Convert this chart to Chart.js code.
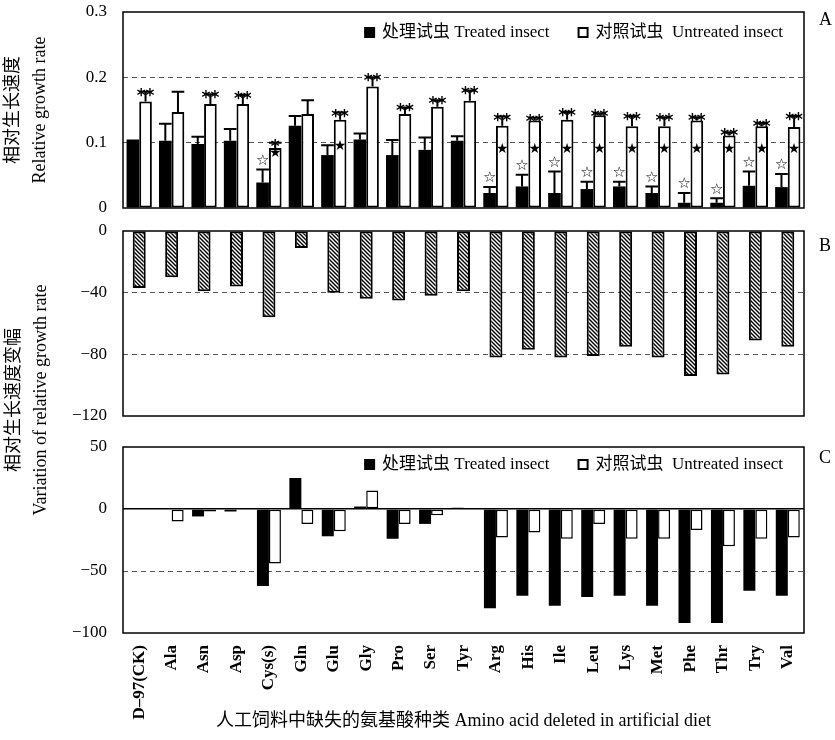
<!DOCTYPE html>
<html>
<head>
<meta charset="utf-8">
<script src="https://cdn.jsdelivr.net/npm/chart.js@4.4.1/dist/chart.umd.min.js"></script>
<style>
  body { margin: 0; background: #fff; }
  #wrap { position: relative; width: 835px; height: 740px; overflow: hidden;
          font-family: 'Liberation Serif', 'Noto Sans CJK SC', serif; color: #000; }
  canvas { position: absolute; left: 0; }
  .tag { position: absolute; left: 819px; font-size: 18px; }
  #ytitleBC { position: absolute; width: 320px; height: 54px; line-height: 27px; font-size: 18px;
              text-align: center; white-space: nowrap; transform: rotate(-90deg); left: -133px; top: 373px; }
</style>
</head>
<body>
<div id="wrap">
  <canvas id="chart-a" width="835" height="222" style="top:0"></canvas>
  <canvas id="chart-b" width="835" height="205" style="top:222px"></canvas>
  <canvas id="chart-c" width="835" height="313" style="top:427px"></canvas>
  <div class="tag" style="top:9px">A</div>
  <div class="tag" style="top:235px">B</div>
  <div class="tag" style="top:447px">C</div>
  <div id="ytitleBC">相对生长速度变幅<br>Variation of relative growth rate</div>
</div>
<script>
// amino acid left out of the diet
const aminoAcids = ['D–97(CK)', 'Ala', 'Asn', 'Asp', 'Cys(s)', 'Gln', 'Glu', 'Gly', 'Pro', 'Ser', 'Tyr',
  'Arg', 'His', 'Ile', 'Leu', 'Lys', 'Met', 'Phe', 'Thr', 'Try', 'Val'];

// A: relative growth rate (+ upper error)
const rgrTreated = [0.105, 0.103, 0.098, 0.103, 0.039, 0.126, 0.081, 0.105, 0.081, 0.089, 0.103,
  0.023, 0.033, 0.023, 0.029, 0.033, 0.023, 0.008, 0.008, 0.034, 0.032];
const rgrTreatedErr = [0, 0.026, 0.011, 0.018, 0.020, 0.015, 0.015, 0.009, 0.023, 0.019, 0.007,
  0.009, 0.018, 0.033, 0.011, 0.007, 0.010, 0.015, 0.007, 0.022, 0.020];
const rgrUntreated = [0.163, 0.147, 0.159, 0.159, 0.092, 0.144, 0.135, 0.186, 0.144, 0.155, 0.164,
  0.126, 0.134, 0.135, 0.142, 0.125, 0.125, 0.134, 0.111, 0.125, 0.124];
const rgrUntreatedErr = [0.015, 0.031, 0.015, 0.014, 0.008, 0.021, 0.011, 0.014, 0.010, 0.010, 0.016,
  0.014, 0.004, 0.012, 0.003, 0.016, 0.014, 0.005, 0.005, 0.005, 0.017];
const sigTreated = ['', '', '', '', '☆', '', '', '', '', '', '',
  '☆', '☆', '☆', '☆', '☆', '☆', '☆', '☆', '☆', '☆'];
const sigUntreated = ['**', '', '**', '**', '*', '', '**', '**', '**', '**', '**',
  '**', '**', '**', '**', '**', '**', '**', '**', '**', '**'];
const untreatedStar = [null, null, null, null, 0.083, null, 0.094, null, null, null, null,
  0.089, 0.089, 0.089, 0.089, 0.089, 0.089, 0.089, 0.089, 0.089, 0.089];

// B: variation of relative growth rate (%)
const rgrChange = [-37, -30, -39, -36, -56, -11, -40, -44, -45, -42, -39,
  -82, -77, -82, -81, -75, -82, -94, -93, -71, -75];

// C: variation, treated vs untreated insects
const changeTreated = [0, 0, -6, -2, -62, 25, -22, 2, -24, -12, 1,
  -80, -70, -78, -71, -70, -78, -92, -92, -66, -70];
const changeUntreated = [0, -10, -2, 0, -44, -12, -18, 15, -12, -5, 0,
  -23, -19, -24, -12, -24, -24, -17, -30, -24, -23];

const ticksA = [0, 0.1, 0.2, 0.3];
const ticksB = [-120, -80, -40, 0];
const ticksC = [-100, -50, 0, 50];

const serif = "'Liberation Serif', 'Noto Sans CJK SC', serif";
Chart.defaults.font.family = serif;
Chart.defaults.color = '#000';

// frame around each panel
const panelBox = {
  id: 'panelBox',
  afterDraw(chart) {
    const a = chart.chartArea, ctx = chart.ctx;
    ctx.save();
    ctx.strokeStyle = '#000';
    ctx.lineWidth = 1.5;
    ctx.strokeRect(a.left, a.top, a.right - a.left, a.bottom - a.top);
    ctx.restore();
  }
};

// error bars, significance marks
const barMarks = {
  id: 'barMarks',
  afterDatasetsDraw(chart) {
    const ctx = chart.ctx, yScale = chart.scales.y;
    chart.data.datasets.forEach((ds, di) => {
      const meta = chart.getDatasetMeta(di);
      meta.data.forEach((bar, i) => {
        let top = bar.y;
        ctx.save();
        if (ds.err && ds.err[i]) {
          top = yScale.getPixelForValue(ds.data[i] + ds.err[i]);
          const half = bar.width / 2;
          ctx.strokeStyle = '#000';
          ctx.lineWidth = 2;
          ctx.beginPath();
          ctx.moveTo(bar.x, bar.y);
          ctx.lineTo(bar.x, top);
          ctx.moveTo(bar.x - half, top);
          ctx.lineTo(bar.x + half, top);
          ctx.stroke();
        }
        ctx.fillStyle = '#000';
        ctx.textAlign = 'center';
        if (ds.sig && ds.sig[i]) {
          if (ds.sig[i] === '☆') {
            ctx.font = "15px 'DejaVu Sans'";
            ctx.textBaseline = 'bottom';
            ctx.fillText(ds.sig[i], bar.x, top - 1);
          } else {
            ctx.font = "bold 17px 'DejaVu Sans'";
            ctx.textBaseline = 'alphabetic';
            ctx.fillText(ds.sig[i], bar.x, top + 9);
          }
        }
        if (ds.inner && ds.inner[i] != null) {
          ctx.font = "14px 'DejaVu Sans'";
          ctx.textBaseline = 'middle';
          ctx.fillText('★', bar.x, yScale.getPixelForValue(ds.inner[i]));
        }
        ctx.restore();
      });
    });
  }
};

// legend inside the plot area, top right
const insideLegend = {
  id: 'insideLegend',
  afterDraw(chart, args, opts) {
    if (!opts.show) return;
    const ctx = chart.ctx, a = chart.chartArea;
    const y = a.top + opts.top;
    let x = a.right - opts.right;
    ctx.save();
    ctx.font = '17px ' + serif;
    ctx.textBaseline = 'middle';
    ctx.textAlign = 'left';
    const items = chart.data.datasets;
    for (let k = items.length - 1; k >= 0; k--) {
      const d = items[k];
      x -= ctx.measureText(d.label).width;
      ctx.fillStyle = '#000';
      ctx.fillText(d.label, x, y);
      x -= 18;
      ctx.fillStyle = d.backgroundColor;
      ctx.fillRect(x, y - 6, 11, 11);
      if (d.borderWidth) {
        ctx.strokeStyle = '#000';
        ctx.lineWidth = 2;
        ctx.strokeRect(x + 1, y - 5, 9, 9);
      }
      x -= 28;
    }
    ctx.restore();
  }
};

function yAxis(ticks, fmt, extra) {
  return Object.assign({
    min: ticks[0],
    max: ticks[ticks.length - 1],
    afterBuildTicks: s => { s.ticks = ticks.map(v => ({ value: v })); },
    afterFit: s => { s.width = 123; s.paddingTop = 0; s.paddingBottom = 0; },
    border: { display: false, dash: [5, 4] },
    grid: {
      drawTicks: false,
      lineWidth: 1,
      color: c => (c.tick && c.tick.value !== ticks[0] && c.tick.value !== ticks[ticks.length - 1]) ? '#555' : 'rgba(0,0,0,0)'
    },
    ticks: { padding: 16, font: { size: 17 }, callback: fmt }
  }, extra || {});
}

const minus = v => String(v).replace('-', '−');

// Panel A
new Chart(document.getElementById('chart-a'), {
  type: 'bar',
  data: {
    labels: aminoAcids,
    datasets: [
      {
        label: '处理试虫 Treated insect',
        data: rgrTreated,
        err: rgrTreatedErr,
        sig: sigTreated,
        backgroundColor: '#000',
        borderWidth: 0
      },
      {
        label: '对照试虫  Untreated insect',
        data: rgrUntreated,
        err: rgrUntreatedErr,
        sig: sigUntreated,
        inner: untreatedStar,
        backgroundColor: '#fff',
        borderColor: '#000',
        borderWidth: 2,
        borderSkipped: false
      }
    ]
  },
  options: {
    responsive: false,
    animation: false,
    layout: { padding: { top: 12, right: 31, bottom: 14, left: 0 } },
    datasets: { bar: { categoryPercentage: 0.78, barPercentage: 1 } },
    plugins: {
      legend: { display: false },
      tooltip: { enabled: false },
      insideLegend: { show: true, top: 21, right: 21 }
    },
    scales: {
      x: { display: false },
      y: yAxis(ticksA, v => v === 0 ? '0' : v.toFixed(1), {
        title: {
          display: true,
          text: ['相对生长速度', 'Relative growth rate'],
          font: { size: 18, lineHeight: 1.5 },
          padding: { top: 0, bottom: 0 }
        }
      })
    }
  },
  plugins: [barMarks, insideLegend, panelBox]
});

// Panel B
const bCanvas = document.getElementById('chart-b');
function hatch(ctx) {
  const c = document.createElement('canvas');
  c.width = 4; c.height = 4;
  const g = c.getContext('2d');
  g.fillStyle = '#fff';
  g.fillRect(0, 0, 4, 4);
  g.strokeStyle = '#000';
  g.lineWidth = 1.4;
  g.beginPath();
  g.moveTo(-1, -1); g.lineTo(5, 5);
  g.moveTo(-1, 3); g.lineTo(1, 5);
  g.moveTo(3, -1); g.lineTo(5, 1);
  g.stroke();
  return ctx.createPattern(c, 'repeat');
}

new Chart(bCanvas, {
  type: 'bar',
  data: {
    labels: aminoAcids,
    datasets: [{
      label: '相对生长速度变幅',
      data: rgrChange,
      backgroundColor: hatch(bCanvas.getContext('2d')),
      borderColor: '#000',
      borderWidth: 2,
      borderSkipped: false
    }]
  },
  options: {
    responsive: false,
    animation: false,
    layout: { padding: { top: 9, right: 31, bottom: 11, left: 0 } },
    datasets: { bar: { categoryPercentage: 1, barPercentage: 0.4 } },
    plugins: { legend: { display: false }, tooltip: { enabled: false } },
    scales: {
      x: { display: false },
      y: yAxis(ticksB, minus)
    }
  },
  plugins: [panelBox]
});

// Panel C
new Chart(document.getElementById('chart-c'), {
  type: 'bar',
  data: {
    labels: aminoAcids,
    datasets: [
      {
        label: '处理试虫 Treated insect',
        data: changeTreated,
        backgroundColor: '#000',
        borderWidth: 0
      },
      {
        label: '对照试虫  Untreated insect',
        data: changeUntreated,
        backgroundColor: '#fff',
        borderColor: '#000',
        borderWidth: 1.5,
        borderSkipped: false
      }
    ]
  },
  options: {
    responsive: false,
    animation: false,
    layout: { padding: { top: 20, right: 31, bottom: 0, left: 0 } },
    datasets: { bar: { categoryPercentage: 0.74, barPercentage: 1 } },
    plugins: {
      legend: { display: false },
      tooltip: { enabled: false },
      insideLegend: { show: true, top: 18, right: 21 }
    },
    scales: {
      x: {
        afterFit: s => { s.height = 107; },
        grid: { display: false, drawTicks: false },
        border: { display: false },
        ticks: {
          autoSkip: false,
          minRotation: 90,
          maxRotation: 90,
          padding: 12,
          font: { size: 17, weight: 'bold' }
        },
        title: {
          display: true,
          text: '人工饲料中缺失的氨基酸种类 Amino acid deleted in artificial diet',
          font: { size: 18 },
          padding: { top: 0, bottom: 8 }
        }
      },
      y: yAxis(ticksC, minus, {
        border: { display: false, dash: c => (c.tick && c.tick.value === 0) ? [] : [5, 4] },
        grid: {
          drawTicks: false,
          lineWidth: c => (c.tick && c.tick.value === 0) ? 1.5 : 1,
          color: c => {
            if (!c.tick) return 'rgba(0,0,0,0)';
            if (c.tick.value === 0) return '#000';
            if (c.tick.value === -50) return '#555';
            return 'rgba(0,0,0,0)';
          }
        }
      })
    }
  },
  plugins: [barMarks, insideLegend, panelBox]
});
</script>
</body>
</html>
